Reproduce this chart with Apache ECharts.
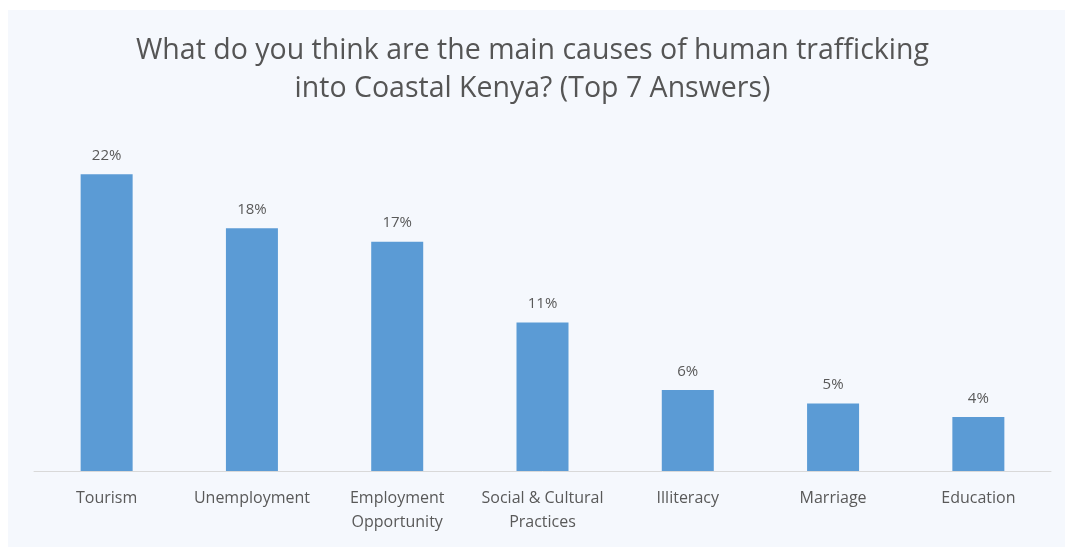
<!DOCTYPE html>
<html>
<head>
<meta charset="utf-8">
<script src="https://cdn.jsdelivr.net/npm/echarts@6/dist/echarts.min.js"></script>
<style>
  html, body { margin: 0; padding: 0; background: #ffffff; }
  #chart { width: 1065px; height: 547px; }
</style>
</head>
<body>
<div id="chart"></div>
<script>
// Survey answers: main causes of human trafficking into Coastal Kenya
const titleLines = [
  'What do you think are the main causes of human trafficking',
  'into Coastal Kenya? (Top 7 Answers)'
];
const categories = [
  'Tourism',
  'Unemployment',
  'Employment\nOpportunity',
  'Social & Cultural\nPractices',
  'Illiteracy',
  'Marriage',
  'Education'
];
const shares = [22, 18, 17, 11, 6, 5, 4];

const chart = echarts.init(document.getElementById('chart'));
const textColor = '#595959';
const fontFamily = '"Open Sans", Lato, sans-serif';

chart.setOption({
  backgroundColor: '#ffffff',
  animation: false,
  graphic: [{
    type: 'rect',
    z: -10,
    shape: { x: 8, y: 10, width: 1057, height: 537 },
    style: { fill: '#f5f8fd' }
  }],
  title: {
    text: titleLines.join('\n'),
    left: 'center',
    top: 27,
    textStyle: {
      color: '#555555',
      fontFamily: fontFamily,
      fontSize: 28.5,
      fontWeight: 'normal',
      lineHeight: 38
    }
  },
  grid: { left: 34, right: 14, top: 100, bottom: 76, containLabel: false },
  xAxis: {
    type: 'category',
    data: categories,
    axisLine: { lineStyle: { color: '#d9d9d9', width: 1 } },
    axisTick: { show: false },
    axisLabel: {
      color: textColor,
      fontFamily: fontFamily,
      fontSize: 16,
      lineHeight: 24,
      margin: 15,
      interval: 0
    }
  },
  yAxis: {
    type: 'value',
    min: 0,
    max: 27.5,
    show: false,
    splitLine: { show: false }
  },
  series: [{
    type: 'bar',
    data: shares,
    barWidth: 52,
    itemStyle: { color: '#5b9bd5' },
    label: {
      show: true,
      position: 'top',
      distance: 11,
      formatter: '{c}%',
      color: textColor,
      fontFamily: fontFamily,
      fontSize: 15
    }
  }]
});
</script>
</body>
</html>
